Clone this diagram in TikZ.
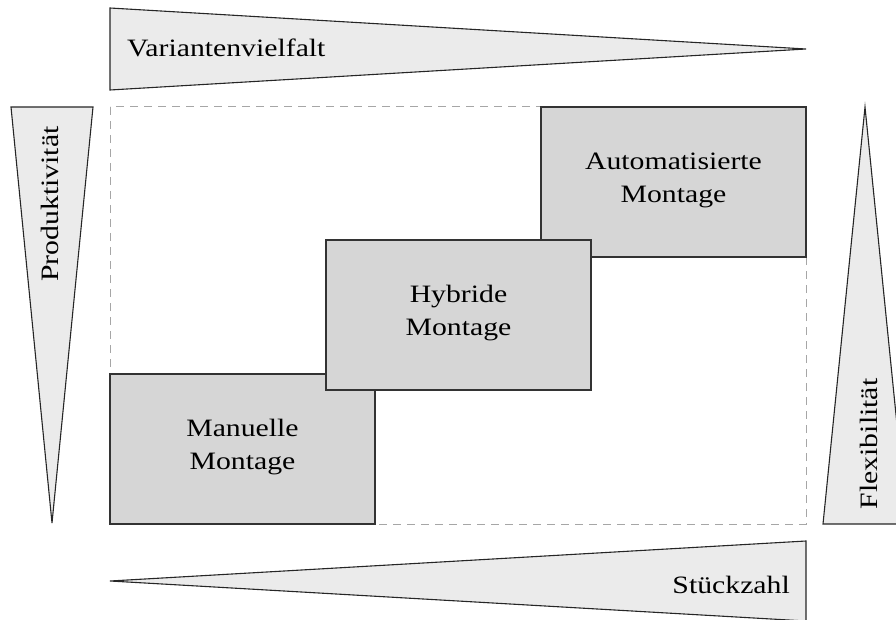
\documentclass[tikz,border=0pt]{standalone}
\usepackage{fontspec}
\setmainfont[FakeStretch=1.19]{Liberation Serif}
\begin{document}
\begin{tikzpicture}[x=1pt,y=-1pt,
  wedge/.style={draw=black!85, fill=black!8, line width=1.1pt, line join=miter},
  stage/.style={draw=black!80, fill=black!16, line width=1.1pt},
  frame/.style={draw=black!35, dashed, dash pattern=on 8pt off 6pt, line width=1pt},
  lbl/.style={font=\fontsize{25}{33}\selectfont, inner sep=0pt, align=center}]
\useasboundingbox (0,0) rectangle (896,620);
\clip (0,0) rectangle (896,620);

% dashed frame of the portfolio area
\draw[frame] (110,107) rectangle (806,524);

% indicator wedges
\draw[wedge] (110,8) -- (806,49) -- (110,90) -- cycle;
\draw[wedge] (11,107) -- (93,107) -- (52,523) -- cycle;
\draw[wedge] (865,107) -- (907,524) -- (823,524) -- cycle;
\draw[wedge] (110,581) -- (806,541) -- (806,621) -- cycle;

\node[lbl, anchor=base west] (variety) at (127,57) {Variantenvielfalt};
\node[lbl, rotate=90, anchor=base] (productivity) at (58,204) {Produktivität};
\node[lbl, rotate=90, anchor=base] (flexibility) at (877,444) {Flexibilität};
\node[lbl, anchor=base east] (quantity) at (790,593) {Stückzahl};

% assembly stages
\draw[stage] (110,374) rectangle (375,524);
\draw[stage] (541,107) rectangle (806,257);
\draw[stage] (326,240) rectangle (591,390);

\node[lbl] (manual) at (242.5,447) {Manuelle\\Montage};
\node[lbl] (auto) at (673.5,180) {Automatisierte\\Montage};
\node[lbl] (hybrid) at (458.5,313) {Hybride\\Montage};
\end{tikzpicture}
\end{document}
